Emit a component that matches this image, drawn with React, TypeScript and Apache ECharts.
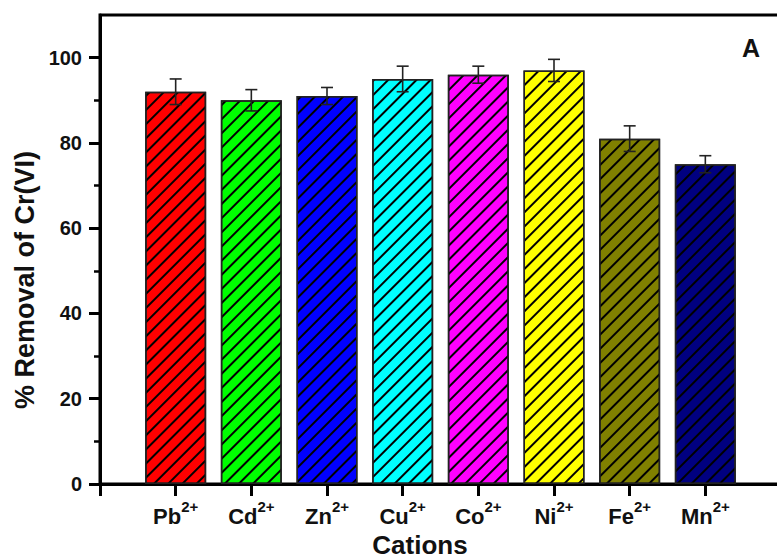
import React, { useEffect, useRef } from "react";
import * as echarts from "echarts";

const categories = ["Pb", "Cd", "Zn", "Cu", "Co", "Ni", "Fe", "Mn"];
const charges = ["2+", "2+", "2+", "2+", "2+", "2+", "2+", "2+"];
const removal = [92, 90, 91, 95, 96, 97, 81, 75];
const errors = [3, 2.5, 2, 3, 2, 2.6, 3, 2];
const colors = ["#ff0000", "#00ff00", "#0000ff", "#00ffff", "#ff00ff", "#ffff00", "#808000", "#000080"];
const majorTicks = [0, 20, 40, 60, 80, 100];
const minorTicks = [10, 30, 50, 70, 90];

const FONT = 'Arial, "Liberation Sans", sans-serif';

export default function App() {
  const ref = useRef<HTMLDivElement>(null);
  useEffect(() => {
    if (!ref.current) return;
    const chart = echarts.init(ref.current, undefined, { renderer: "svg" });
    const decal = {
      symbol: "rect",
      symbolSize: 1,
      color: "#000",
      dashArrayX: [1, 0],
      dashArrayY: [1.3, 7.4],
      rotation: -Math.PI / 4,
    };
    const barData = removal.map((v, i) => ({
      value: [i + 1, v],
      itemStyle: { color: colors[i], decal },
    }));
    const errData = removal.map((v, i) => [i + 1, v, errors[i]]);
    chart.setOption({
      animation: false,
      backgroundColor: "#fff",
      grid: { left: 100, right: 0, top: 15, bottom: 76, show: true, borderColor: "#000", borderWidth: 3, backgroundColor: "transparent" },
      xAxis: {
        type: "value",
        min: 0,
        max: 9,
        interval: 1,
        splitLine: { show: false },
        axisLine: { lineStyle: { color: "#000", width: 3 } },
        axisTick: { length: 12, lineStyle: { color: "#000", width: 3 } },
        axisLabel: {
          margin: 15,
          formatter: (v: number) => {
            const i = Math.round(v) - 1;
            if (i < 0 || i >= categories.length) return "";
            return `{n|${categories[i]}}{s|${charges[i]}}`;
          },
          rich: {
            n: { fontFamily: FONT, fontWeight: "bold", fontSize: 22, color: "#111", lineHeight: 28, verticalAlign: "bottom" },
            s: { fontFamily: FONT, fontWeight: "bold", fontSize: 15, color: "#111", lineHeight: 15, verticalAlign: "top" },
          },
        },
      },
      yAxis: [
        {
          type: "value",
          min: 0,
          max: 110,
          interval: 10,
          splitLine: { show: false },
          axisLine: { lineStyle: { color: "#000", width: 3 } },
          axisTick: { customValues: majorTicks, length: 11, lineStyle: { color: "#000", width: 3 } },
          axisLabel: {
            customValues: majorTicks,
            margin: 18,
            fontFamily: FONT,
            fontWeight: "bold",
            fontSize: 20,
            color: "#111",
          },
        },
        {
          type: "value",
          min: 0,
          max: 110,
          interval: 10,
          position: "left",
          splitLine: { show: false },
          axisLine: { show: false },
          axisTick: { customValues: minorTicks, length: 6, lineStyle: { color: "#000", width: 2.5 } },
          axisLabel: { show: false },
        },
      ],
      series: [
        {
          type: "bar",
          data: barData,
          barWidth: 61,
          itemStyle: { borderColor: "#222", borderWidth: 1.5 },
        },
        {
          type: "custom",
          data: errData,
          z: 5,
          renderItem: (params: any, api: any) => {
            const x = api.value(0);
            const v = api.value(1);
            const e = api.value(2);
            const top = api.coord([x, v + e]);
            const bot = api.coord([x, v - e]);
            const style = { stroke: "#222", lineWidth: 1.6 };
            return {
              type: "group",
              children: [
                { type: "line", shape: { x1: top[0], y1: top[1], x2: bot[0], y2: bot[1] }, style },
                { type: "line", shape: { x1: top[0] - 6, y1: top[1], x2: top[0] + 6, y2: top[1] }, style },
                { type: "line", shape: { x1: bot[0] - 6, y1: bot[1], x2: bot[0] + 6, y2: bot[1] }, style },
              ],
            };
          },
        },
      ],
      graphic: [
        {
          type: "text",
          x: 420,
          y: 545,
          style: { text: "Cations", font: `bold 26px ${FONT}`, fill: "#111", textAlign: "center", textVerticalAlign: "middle" },
        },
        {
          type: "text",
          x: 25,
          y: 280,
          rotation: Math.PI / 2,
          style: { text: "% Removal of Cr(VI)", font: `bold 27px ${FONT}`, fill: "#111", textAlign: "center", textVerticalAlign: "middle" },
        },
        {
          type: "text",
          x: 751,
          y: 48,
          style: { text: "A", font: `bold 25px ${FONT}`, fill: "#111", textAlign: "center", textVerticalAlign: "middle" },
        },
      ],
    });
    return () => chart.dispose();
  }, []);
  return (
    <div style={{ position: "absolute", left: 0, top: 0, width: 777, height: 560, overflow: "hidden", background: "#fff" }}>
      <div ref={ref} style={{ width: 784, height: 560 }} />
    </div>
  );
}
